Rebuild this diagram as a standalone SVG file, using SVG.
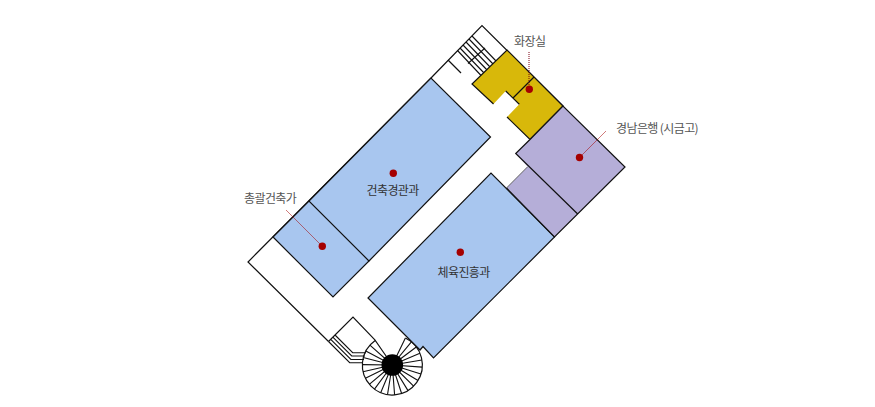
<svg xmlns="http://www.w3.org/2000/svg" width="875" height="407" viewBox="0 0 875 407">
<style>
.w{fill:none;stroke:#111;stroke-width:1.2;stroke-linejoin:miter}
.s{fill:none;stroke:#111;stroke-width:1.1}
.blue{fill:#a8c6ef}
.purple{fill:#b5aed8}
.gold{fill:#d8b80a}
.dot{fill:#a50000}
.lead{fill:none;stroke:#a50000;stroke-width:.7}
text{font-family:"Noto Sans CJK KR","Noto Sans",sans-serif;font-size:12px;letter-spacing:-.6px}
.dark{fill:#333}
.grey{fill:#555}
</style>
<rect width="875" height="407" fill="#fff"/>
<g id="building">
<path class="w" d="M431 78L482 25.500L563 106M431 78L248 262L328.500 341.500"/>
<path class="w" d="M448 60L461 73"/>
</g>
<g id="stairs-north">
<path class="s" d="M472 36L497 62M469 39L494 65M466 42L491 68M463 45L488 71M460 48L485 74M457.500 50.500L482 76.500M485 48L468 63.500"/>
</g>
<g id="stairs-south">
<path class="s" d="M335 335L352.700 352.700H366M332.850 337.150L351.700 356H365M330.700 339.300L350.900 359.500H364M328.500 341.500L349.700 362.700H363"/>
<path class="w" d="M328.500 341.500L353 317L375.600 340.600"/>
<g id="spiral">
<path class="s" id="spokes" d="M392.300 365L405.400 338M392.300 365L411.400 341.900M392.300 365L416.300 347M392.300 365L419.900 353.200M392.300 365L421.900 360M392.300 365L422.200 367.100M392.300 365L420.900 374.100M392.300 365L418 380.500M392.300 365L413.600 386.100M392.300 365L408 390.600M392.300 365L401.600 393.500M392.300 365L394.600 394.900M392.300 365L387.500 394.600M392.300 365L380.700 392.700M392.300 365L374.500 389.200M392.300 365L369.300 384.300M392.300 365L365.400 378.300M392.300 365L363 371.700M392.300 365L362.300 364.600M392.300 365L363.200 357.500M392.300 365L365.800 350.900M392.300 365L369.900 345.100M392.300 365L375.200 340.400"/>
<path class="w" d="M405.400 338A30 30 0 1 1 375.200 340.400"/>
<circle cx="392.300" cy="365" r="10.800" fill="#000"/>
</g>
</g>
<g id="room-arch">
<path class="blue" d="M431 78L490.500 137L369 261L309 201Z"/>
<path class="w" d="M309 201L431 78L490.500 137L369 261"/>
</g>
<g id="room-general">
<path class="blue" d="M309 201L369 261L333 297L273 237Z"/>
<path class="w" d="M273 237L309 201L369 261L333 297Z"/>
</g>
<g id="room-sport">
<path class="blue" d="M491 173L554.500 237L433.500 358L423 346.500L420 350L368 298Z"/>
<path class="w" d="M420 350L368 298L491 173L554.500 237L433.500 358L423 346.500Z"/>
</g>
<g id="room-restroom">
<path class="gold" d="M507 50L563 106L530 139.500L507 117L519.300 104.300L505.700 91L493.500 104L472 84Z"/>
<path class="w" d="M493.500 104L472 84L507 50L563 106L530 139.500L507 117M505.700 91L519.300 104.300M534 77L513 98"/>
</g>
<g id="room-bank">
<path class="purple" d="M563 106L625 167L554.500 237L506.500 188L527.700 166.700L515.700 153.500Z"/>
<path class="w" d="M530 139.500L563 106L625 167L554.500 237L506.500 188M530 139.500L515.700 153.500L577.700 214"/>
<path d="M527.700 166.700L506.500 188" fill="none" stroke="#555" stroke-width=".9"/>
</g>
<g id="markers">
<path fill="none" stroke="#7a0010" stroke-dasharray="1 1" stroke-width="1" d="M529 52V89"/>
<path class="lead" opacity=".75" d="M579.500 157.500L606 131M322 246L286 210"/>
<circle class="dot" cx="529.300" cy="89.300" r="3.700"/>
<circle class="dot" cx="579.500" cy="157.500" r="3.700"/>
<circle class="dot" cx="393.300" cy="173.300" r="3.700"/>
<circle class="dot" cx="460.300" cy="252.300" r="3.700"/>
<circle class="dot" cx="322.300" cy="246.300" r="3.700"/>
</g>
<g id="labels">
<text class="grey" x="514" y="46">화장실</text>
<text class="grey" x="616" y="133">경남은행 (시금고)</text>
<text class="grey" x="244" y="203">총괄건축가</text>
<text class="dark" x="366.500" y="195">건축경관과</text>
<text class="dark" x="437.500" y="277">체육진흥과</text>
</g>
</svg>
